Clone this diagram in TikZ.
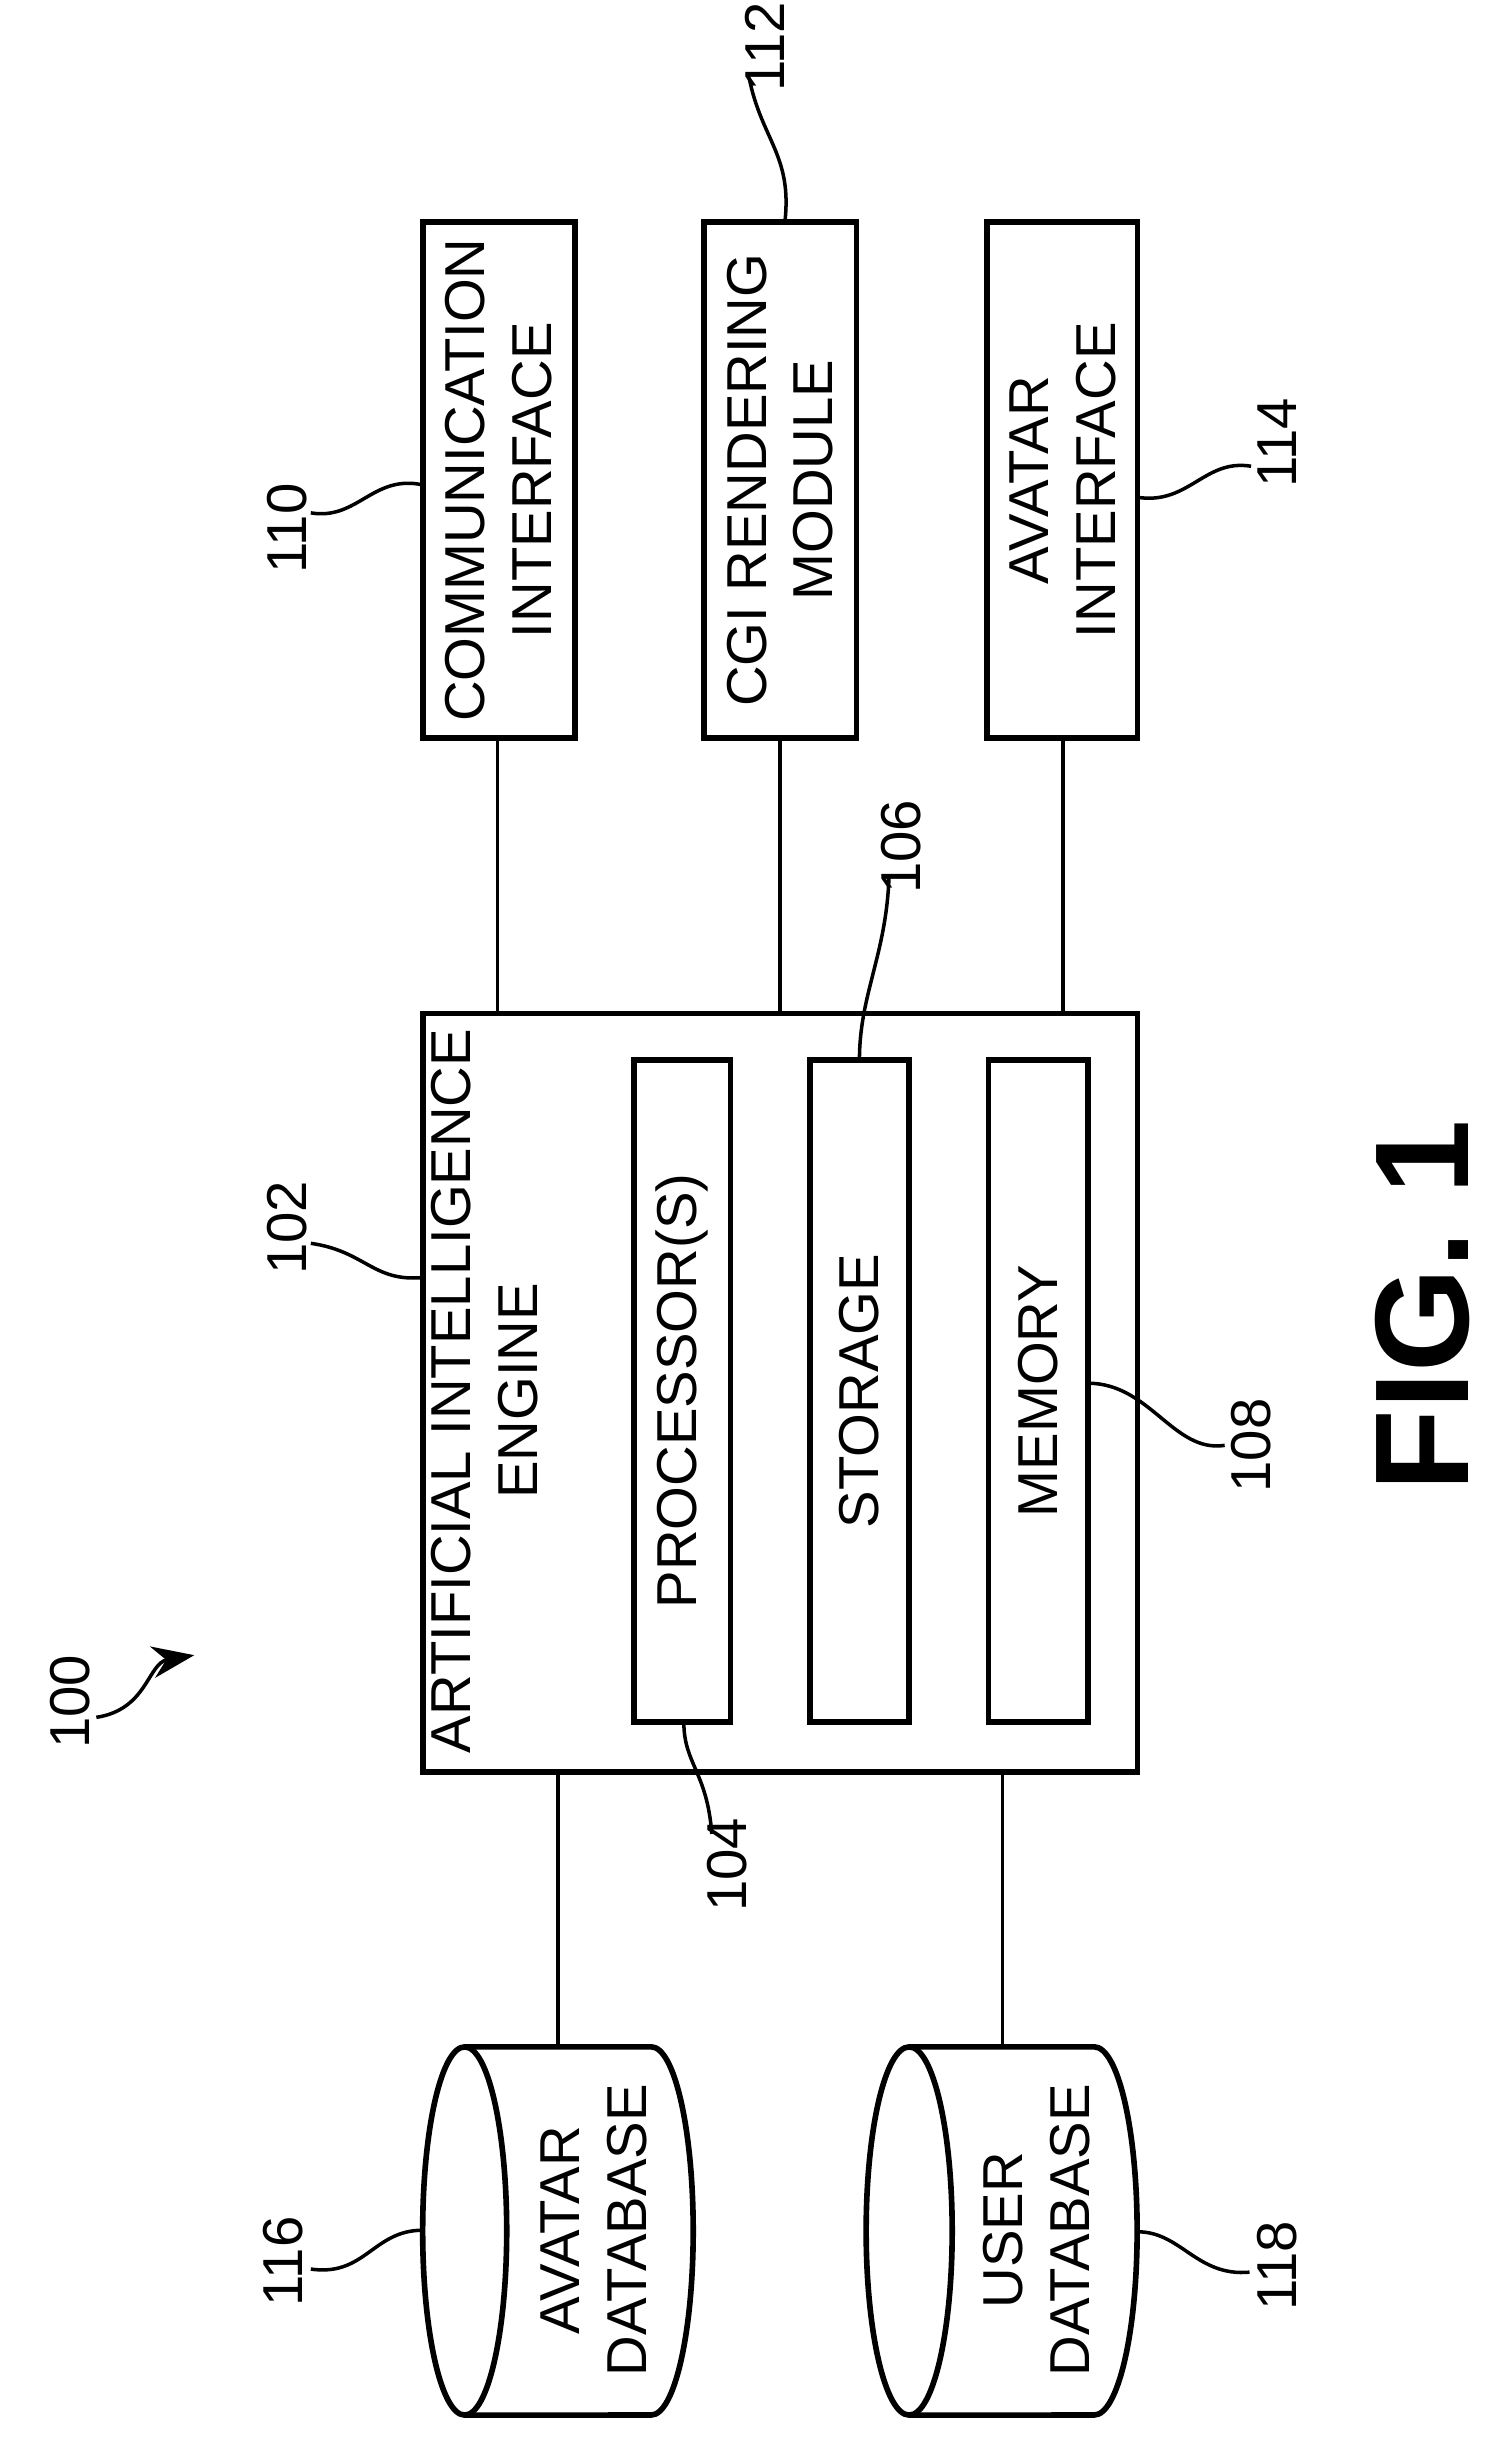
\documentclass[tikz,border=0pt]{standalone}
\usepackage{fontspec}
\setmainfont{Liberation Sans}
\usetikzlibrary{arrows.meta}
\begin{document}
\begin{tikzpicture}[x=0.01554cm,y=-0.01554cm,
  box/.style={draw,line width=1.6pt},
  ln/.style={line width=1pt},
  lbl/.style={font=\fontsize{16}{19}\selectfont,rotate=90,align=center},
  num/.style={font=\fontsize{16}{19}\selectfont,rotate=90}]
\useasboundingbox (0,0) rectangle (966,1570);
% top boxes
\draw[box] (272,143) rectangle (370,475);
\node[lbl] (ci) at (321,309) {COMMUNICATION\\INTERFACE};
\draw[box] (453,143) rectangle (551,475);
\node[lbl] (cgi) at (502,309) {CGI RENDERING\\MODULE};
\draw[box] (635,143) rectangle (732,475);
\node[lbl] (ai) at (684,309) {AVATAR\\INTERFACE};
% engine
\draw[box] (272,652) rectangle (732,1140);
\node[lbl] (eng) at (312,895) {ARTIFICIAL INTELLIGENCE\\ENGINE};
\draw[box] (408,682) rectangle (470,1108);
\node[lbl] (proc) at (439,895) {PROCESSOR(S)};
\draw[box] (521,682) rectangle (585,1108);
\node[lbl] (sto) at (553,895) {STORAGE};
\draw[box] (636,682) rectangle (700,1108);
\node[lbl] (mem) at (668,895) {MEMORY};
% connectors top
\coordinate (c1a) at (320,475); \coordinate (c1b) at (320,652);
\coordinate (c2a) at (502,475); \coordinate (c2b) at (502,652);
\coordinate (c3a) at (684,475); \coordinate (c3b) at (684,652);
\draw[ln] (c1a)--(c1b); \draw[ln] (c2a)--(c2b); \draw[ln] (c3a)--(c3b);
% cylinders
\draw[box] (299,1317) -- (419,1317) arc[start angle=90,end angle=-90,x radius=0.42cm,y radius=1.84cm] -- (299,1554);
\draw[box] (299,1435.5) ellipse[x radius=0.42cm,y radius=1.84cm];
\node[lbl] (adb) at (382,1435) {AVATAR\\DATABASE};
\draw[box] (585,1317) -- (704,1317) arc[start angle=90,end angle=-90,x radius=0.43cm,y radius=1.84cm] -- (585,1554);
\draw[box] (585,1435.5) ellipse[x radius=0.43cm,y radius=1.84cm];
\node[lbl] (udb) at (667,1435) {USER\\DATABASE};
\coordinate (d1a) at (359,1140); \coordinate (d1b) at (359,1317);
\coordinate (d2a) at (645,1140); \coordinate (d2b) at (645,1317);
\draw[ln] (d1a)--(d1b); \draw[ln] (d2a)--(d2b);
% reference numerals
\node[num] (n100) at (45,1095) {100};
\draw[ln,-{Stealth[length=12pt,width=9pt]}] (62,1105) .. controls (95,1100) and (95,1070) .. (125,1065);
\node[num] (n110) at (185,340) {110};
\draw[ln] (200,330) .. controls (230,335) and (240,305) .. (272,312);
\node[num] (n112) at (492,30) {112};
\draw[ln] (482,50) .. controls (490,90) and (510,100) .. (505,143);
\node[num] (n114) at (822,285) {114};
\draw[ln] (805,300) .. controls (775,295) and (765,325) .. (732,320);
\node[num] (n102) at (185,790) {102};
\draw[ln] (200,800) .. controls (235,805) and (240,825) .. (272,822);
\node[num] (n104) at (468,1200) {104};
\draw[ln] (458,1180) .. controls (455,1140) and (440,1135) .. (440,1108);
\node[num] (n106) at (580,545) {106};
\draw[ln] (572,565) .. controls (570,615) and (553,640) .. (553,682);
\node[num] (n108) at (805,930) {108};
\draw[ln] (788,930) .. controls (755,935) and (740,890) .. (700,890);
\node[num] (n116) at (182,1455) {116};
\draw[ln] (200,1460) .. controls (235,1465) and (240,1435) .. (272,1435);
\node[num] (n118) at (822,1458) {118};
\draw[ln] (804,1462) .. controls (770,1465) and (760,1436) .. (732,1436);
\node[rotate=90,font=\bfseries\fontsize{38}{42}\selectfont] (fig) at (915,840) {FIG. 1};
\end{tikzpicture}
\end{document}
